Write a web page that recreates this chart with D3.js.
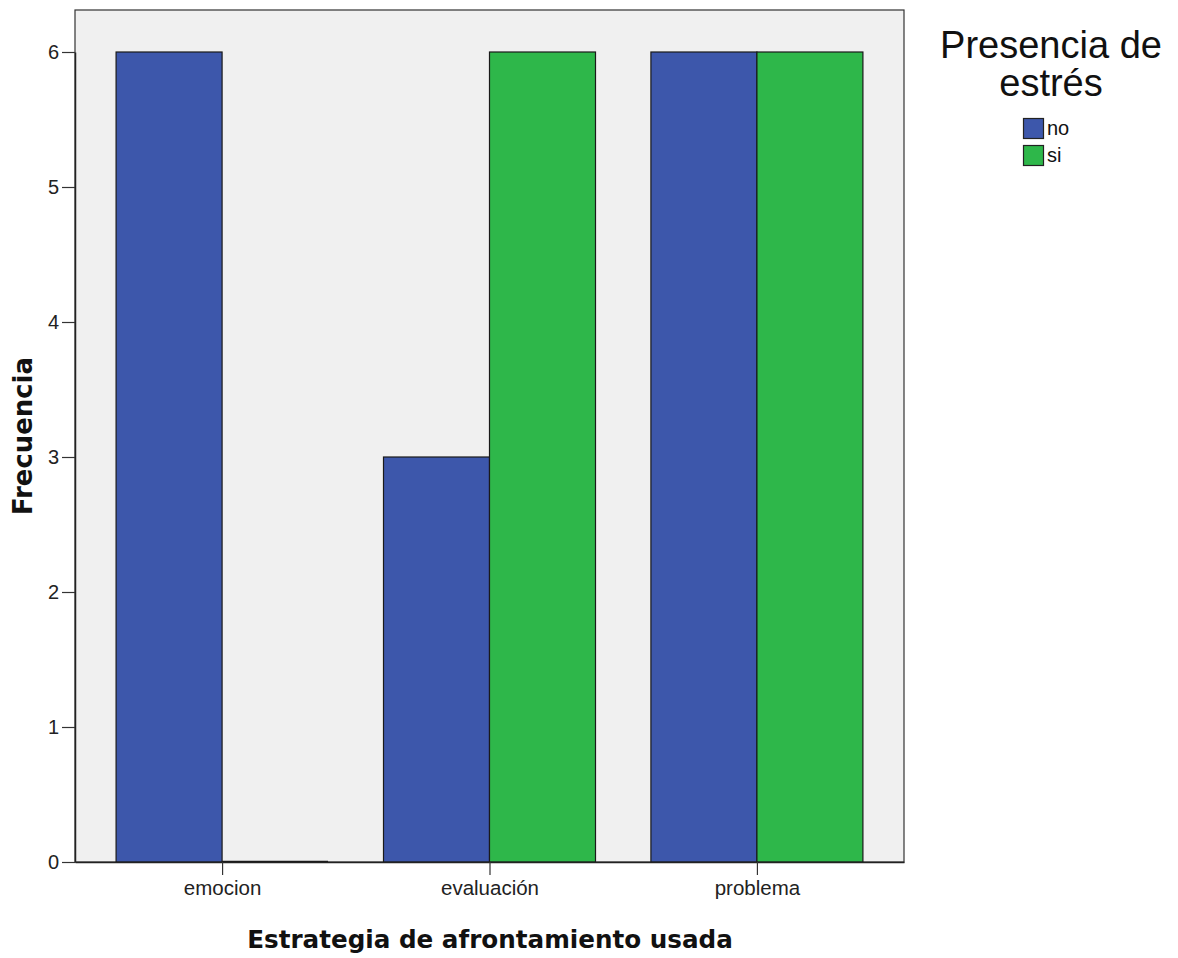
<!DOCTYPE html>
<html><head><meta charset="utf-8">
<script src="https://cdn.jsdelivr.net/npm/d3@7/dist/d3.min.js"></script>
<style>body{margin:0;background:#fff}svg{display:block}</style>
</head><body>
<script>
const categories = ["emocion", "evaluación", "problema"];
const seriesNames = ["no", "si"];
const valuesNo = [6, 3, 6];
const valuesSi = [0, 6, 6];
const yTicks = [0, 1, 2, 3, 4, 5, 6];
const colors = ["#3D57AB", "#2EB74A"];

const W = 1178, H = 958;
const svg = d3.select("body").append("svg").attr("width", W).attr("height", H);
const L = 75, R = 904, T = 10, B = 862;

const x0 = d3.scalePoint().domain(categories).range([L, R]).padding(0.55);
const x1 = d3.scaleBand().domain(seriesNames).range([-106, 106]).padding(0);
const y = d3.scaleLinear().domain([0, 6]).range([B, 52]);

svg.append("rect").attr("x", L).attr("y", T).attr("width", R - L).attr("height", B - T)
  .attr("fill", "#F0F0F0").attr("stroke", "#333").attr("stroke-width", 1.2);

const data = categories.map((c, i) => ({ c, vals: [valuesNo[i], valuesSi[i]] }));
const g = svg.append("g");
data.forEach(d => {
  d.vals.forEach((v, j) => {
    const h = y(0) - y(v);
    if (h > 0) {
      g.append("rect")
        .attr("x", x0(d.c) + x1(seriesNames[j]))
        .attr("y", y(v))
        .attr("width", x1.bandwidth())
        .attr("height", h)
        .attr("fill", colors[j])
        .attr("stroke", "#1a1a1a").attr("stroke-width", 1.2);
    } else {
      g.append("line")
        .attr("x1", x0(d.c) + x1(seriesNames[j]))
        .attr("x2", x0(d.c) + x1(seriesNames[j]) + x1.bandwidth())
        .attr("y1", y(v) - 0.5).attr("y2", y(v) - 0.5)
        .attr("stroke", "#1a1a1a").attr("stroke-width", 1.5);
    }
  });
});

// axes
const yAxis = d3.axisLeft(y).tickValues(yTicks).tickSize(13).tickSizeOuter(0).tickPadding(3).tickFormat(d3.format("d"));
const ya = svg.append("g").attr("transform", `translate(${L},0)`).call(yAxis);
ya.select(".domain").attr("stroke", "#222").attr("stroke-width", 1.5);
ya.selectAll("line").attr("stroke", "#333").attr("stroke-width", 1.2);
ya.selectAll("text").attr("font-family", "Liberation Sans, Arial, sans-serif").attr("font-size", 20).attr("fill", "#222");

const xAxis = d3.axisBottom(x0).tickSize(13).tickSizeOuter(0).tickPadding(5);
const xa = svg.append("g").attr("transform", `translate(0,${B})`).call(xAxis);
xa.select(".domain").attr("stroke", "#222").attr("stroke-width", 1.5);
xa.selectAll("line").attr("stroke", "#333").attr("stroke-width", 1.2);
xa.selectAll("text").attr("font-family", "Liberation Sans, Arial, sans-serif").attr("font-size", 20.5).attr("fill", "#222");

function fit(t, w) {
  const cur = t.node().getComputedTextLength();
  const fs = parseFloat(t.attr("font-size"));
  t.attr("font-size", fs * w / cur);
}

const xt = svg.append("text").attr("x", 490).attr("y", 948).attr("text-anchor", "middle")
  .attr("font-family", "DejaVu Sans, Verdana, sans-serif").attr("font-weight", "bold")
  .attr("font-size", 20).attr("fill", "#111").text("Estrategia de afrontamiento usada");
fit(xt, 486);

const yt = svg.append("text").attr("transform", "translate(32,436) rotate(-90)").attr("text-anchor", "middle")
  .attr("font-family", "DejaVu Sans, Verdana, sans-serif").attr("font-weight", "bold")
  .attr("font-size", 20).attr("fill", "#111").text("Frecuencia");
fit(yt, 158);

const lt1 = svg.append("text").attr("x", 1051).attr("y", 58).attr("text-anchor", "middle")
  .attr("font-family", "Liberation Sans, Arial, sans-serif").attr("font-size", 28).attr("fill", "#111").text("Presencia de");
fit(lt1, 222);
const lt2 = svg.append("text").attr("x", 1051).attr("y", 96).attr("text-anchor", "middle")
  .attr("font-family", "Liberation Sans, Arial, sans-serif").attr("font-size", lt1.attr("font-size")).attr("fill", "#111").text("estrés");

const leg = svg.append("g");
seriesNames.forEach((s, j) => {
  const gy = 118 + j * 27;
  leg.append("rect").attr("x", 1023.5).attr("y", gy + 0.5).attr("width", 20).attr("height", 20)
    .attr("fill", colors[j]).attr("stroke", "#222").attr("stroke-width", 1.2);
  leg.append("text").attr("x", 1047).attr("y", gy + 17)
    .attr("font-family", "Liberation Sans, Arial, sans-serif").attr("font-size", 20).attr("fill", "#111").text(s);
});
</script>
</body></html>
